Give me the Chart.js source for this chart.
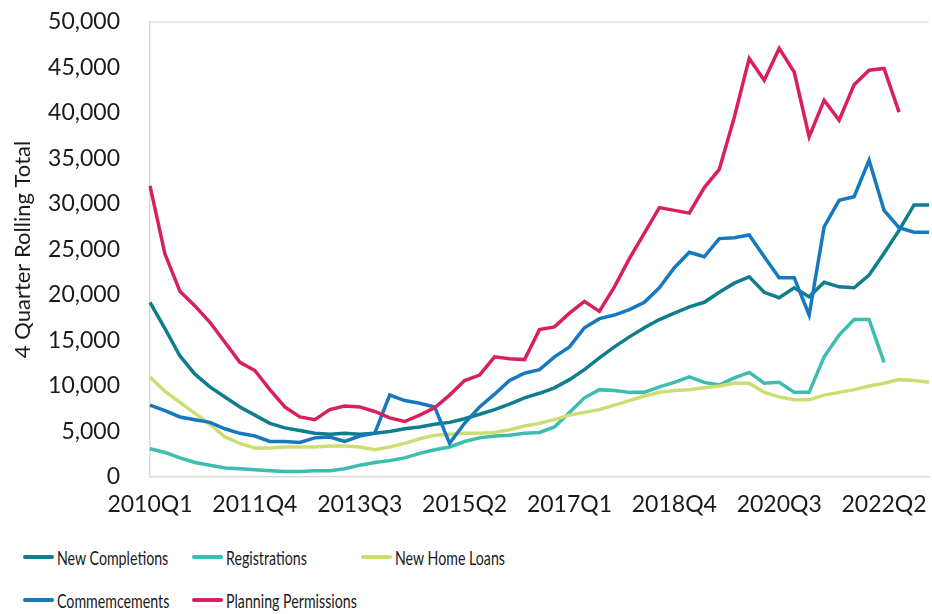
<!DOCTYPE html>
<html>
<head>
<meta charset="utf-8">
<script src="https://cdn.jsdelivr.net/npm/chart.js@4.4.0/dist/chart.umd.min.js"></script>
<style>
  body { margin: 0; background: #fff; width: 932px; height: 614px; overflow: hidden; font-family: Lato, sans-serif; }
  #wrap { position: absolute; left: 0; top: 0; width: 932px; height: 522px; }
  .item { position: absolute; height: 24px; display: flex; align-items: center; }
  .swatch { width: 31px; height: 4px; border-radius: 2px; margin-right: 3px; }
  .txt { font-size: 20px; color: #1a1a1a; transform: scaleX(0.71); transform-origin: left center; white-space: nowrap; }
</style>
</head>
<body>
<div id="wrap"><canvas id="myChart" width="932" height="522"></canvas></div>
<div id="legend"></div>
<script>
// quarters 2010Q1 .. 2023Q1
const quarters = [];
for (let y = 2010; y <= 2023; y++) {
    for (let q = 1; q <= 4; q++) {
        if (y === 2023 && q > 1) break;
        quarters.push(y + 'Q' + q);
    }
}

const xTickLabels = ['2010Q1', '2011Q4', '2013Q3', '2015Q2', '2017Q1', '2018Q4', '2020Q3', '2022Q2'];
const yTicks = [0, 5000, 10000, 15000, 20000, 25000, 30000, 35000, 40000, 45000, 50000];

const newCompletions = [
    19200, 16300, 13300, 11300, 9900, 8800, 7700, 6800, 5900, 5400,
    5100, 4800, 4700, 4800, 4700, 4800, 5000, 5300, 5500, 5800,
    6000, 6400, 6900, 7400, 8000, 8700, 9200, 9800, 10700, 11800,
    13100, 14300, 15400, 16400, 17300, 18000, 18700, 19200, 20300, 21300,
    22000, 20300, 19700, 20800, 19800, 21400, 20900, 20800, 22200, 24600,
    27100, 29900, 29900
];
const registrations = [
    3100, 2700, 2100, 1600, 1300, 1000, 900, 800, 700, 600,
    600, 700, 700, 900, 1300, 1600, 1800, 2100, 2600, 3000,
    3300, 3900, 4300, 4500, 4600, 4800, 4900, 5500, 7100, 8700,
    9600, 9500, 9300, 9300, 9900, 10400, 11000, 10400, 10100, 10900,
    11500, 10300, 10400, 9300, 9300, 13200, 15600, 17300, 17300, 12600,
    null, null, null
];
const newHomeLoans = [
    11000, 9400, 8200, 7000, 5800, 4400, 3700, 3200, 3200, 3300,
    3300, 3300, 3400, 3400, 3300, 3000, 3300, 3700, 4200, 4600,
    4700, 4800, 4800, 4900, 5200, 5600, 5900, 6300, 6800, 7100,
    7400, 7900, 8400, 8900, 9300, 9500, 9600, 9800, 10000, 10300,
    10300, 9300, 8800, 8500, 8500, 9000, 9300, 9600, 10000, 10300,
    10700, 10600, 10400
];
const commencements = [
    7900, 7300, 6600, 6300, 6000, 5300, 4800, 4500, 3900, 3900,
    3800, 4300, 4400, 3900, 4500, 4800, 9000, 8400, 8100, 7700,
    3700, 5900, 7700, 9100, 10600, 11400, 11800, 13200, 14300, 16400,
    17400, 17800, 18400, 19200, 20800, 23000, 24700, 24200, 26200, 26300,
    26600, 24200, 21900, 21900, 17800, 27500, 30400, 30800, 34800, 29300,
    27400, 26900, 26900
];
const planningPermissions = [
    32000, 24500, 20400, 18800, 17000, 14800, 12600, 11700, 9600, 7700,
    6600, 6300, 7400, 7800, 7700, 7200, 6500, 6100, 6800, 7600,
    9000, 10600, 11200, 13200, 13000, 12900, 16200, 16500, 18000, 19300,
    18200, 20900, 24000, 26800, 29600, 29300, 29000, 31800, 33800, 39500,
    46000, 43600, 47100, 44500, 37400, 41400, 39200, 43100, 44700, 44900,
    40100, null, null
];

const textColor = '#1a1a1a';
const axisGrey = '#d9d9d9';

const series = [
    { label: 'New Completions', data: newCompletions, color: '#0f7d8e' },
    { label: 'Registrations', data: registrations, color: '#3dbdb0' },
    { label: 'New Home Loans', data: newHomeLoans, color: '#cddd72' },
    { label: 'Commemcements', data: commencements, color: '#1679c0' },
    { label: 'Planning Permissions', data: planningPermissions, color: '#d81f62' }
];

const chart = () => {
    const data = {
        labels: quarters,
        datasets: series.map(s => ({
            label: s.label,
            data: s.data,
            borderColor: s.color,
            backgroundColor: s.color,
            borderWidth: 3.5,
            pointRadius: 0,
            tension: 0,
            spanGaps: false
        })).reverse()
    };
    const config = {
        type: 'line',
        data: data,
        options: {
            responsive: false,
            animation: false,
            layout: { padding: { top: 22, right: 3, left: 0, bottom: 0 } },
            plugins: {
                legend: { display: false },
                tooltip: { enabled: false }
            },
            scales: {
                x: {
                    offset: false,
                    afterFit: (scale) => {
                        scale.height = 45;
                        scale.paddingLeft = 0;
                        scale.paddingRight = 0;
                    },
                    grid: { display: false, drawTicks: false },
                    border: { display: true, color: axisGrey, width: 1.5 },
                    ticks: {
                        autoSkip: false,
                        maxRotation: 0,
                        padding: 14,
                        color: textColor,
                        font: { family: 'Lato', size: 23 },
                        callback: function (val, idx) {
                            const lab = this.getLabelForValue(val);
                            return xTickLabels.includes(lab) ? lab : null;
                        }
                    }
                },
                y: {
                    min: yTicks[0],
                    max: yTicks[yTicks.length - 1],
                    afterFit: (scale) => {
                        scale.width = 150;
                        scale.paddingTop = 0;
                        scale.paddingBottom = 0;
                    },
                    afterBuildTicks: (scale) => { scale.ticks = yTicks.map(v => ({ value: v })); },
                    grid: {
                        drawTicks: false,
                        color: (ctx) => ctx.tick && ctx.tick.value === 50000 ? '#e3e3e3' : 'rgba(0,0,0,0)',
                        lineWidth: 1.5
                    },
                    border: { display: true, color: axisGrey, width: 1.5 },
                    title: {
                        display: true,
                        text: '4 Quarter Rolling Total',
                        color: textColor,
                        font: { family: 'Lato', size: 22 },
                        padding: { top: 10, bottom: 0 }
                    },
                    ticks: {
                        padding: 30,
                        color: textColor,
                        font: { family: 'Lato', size: 23 },
                        callback: (v) => v.toLocaleString('en-US')
                    }
                }
            }
        }
    };
    const ctx = document.getElementById('myChart');
    new Chart(ctx, config);
};

// html legend, three columns, two rows
const legend = () => {
    const cols = [23, 192, 361];
    const rows = [557, 600];
    const box = document.getElementById('legend');
    series.forEach((s, i) => {
        const item = document.createElement('div');
        item.className = 'item';
        item.style.left = cols[i % 3] + 'px';
        item.style.top = (rows[Math.floor(i / 3)] - 12) + 'px';
        const sw = document.createElement('div');
        sw.className = 'swatch';
        sw.style.background = s.color;
        const t = document.createElement('span');
        t.className = 'txt';
        t.textContent = s.label;
        item.appendChild(sw);
        item.appendChild(t);
        box.appendChild(item);
    });
};

chart();
legend();
</script>
</body>
</html>
